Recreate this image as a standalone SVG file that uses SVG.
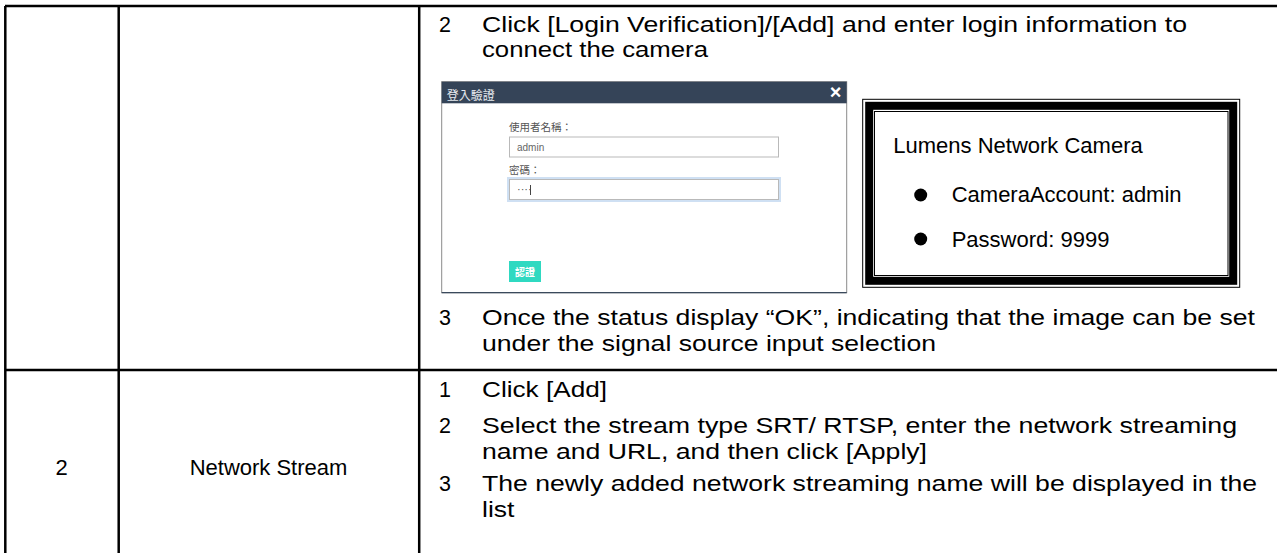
<svg xmlns="http://www.w3.org/2000/svg" width="1277" height="553" viewBox="0 0 1277 553">
<style>
.t{font-family:"Liberation Sans",Arial,sans-serif;font-size:22px;fill:#000}
.m{font-size:21.5px}
.grid{stroke:#000;stroke-width:2.5;fill:none}
.ui{font-family:"Noto Sans CJK TC","Noto Sans CJK SC","Liberation Sans",sans-serif}
.lbl{font-size:10.5px;fill:#555}
.inp{fill:#fff;stroke:#b9b9b9;stroke-width:1}
</style>
<rect x="0" y="0" width="1277" height="553" fill="#fff"/>
<g id="table-grid">
<line class="grid" x1="5" y1="6" x2="1277" y2="6"/>
<line class="grid" x1="5" y1="370" x2="1277" y2="370"/>
<line class="grid" x1="5.3" y1="6" x2="5.3" y2="553"/>
<line class="grid" x1="118.7" y1="6" x2="118.7" y2="553"/>
<line class="grid" x1="419.2" y1="6" x2="419.2" y2="553"/>
</g>
<g id="row1-steps">
<text class="t m" x="439" y="32">2</text>
<text class="t m" x="482" y="32" textLength="705" lengthAdjust="spacingAndGlyphs">Click [Login Verification]/[Add] and enter login information to</text>
<text class="t m" x="482" y="57" textLength="226" lengthAdjust="spacingAndGlyphs">connect the camera</text>
<text class="t m" x="439" y="325">3</text>
<text class="t m" x="482" y="325" textLength="773" lengthAdjust="spacingAndGlyphs">Once the status display “OK”, indicating that the image can be set</text>
<text class="t m" x="482" y="351" textLength="454" lengthAdjust="spacingAndGlyphs">under the signal source input selection</text>
</g>
<g id="login-dialog">
<rect x="441.7" y="81.7" width="405" height="211" fill="#fff" stroke="#8a8a8a" stroke-width="1"/>
<rect x="441.7" y="81.7" width="405" height="21.6" fill="#354458"/>
<line x1="441.7" y1="292.7" x2="846.7" y2="292.7" stroke="#3a4a5c" stroke-width="1.2"/>
<text class="ui" x="446.7" y="99.5" font-size="12" fill="#e6eaef">登入驗證</text>
<text x="835.5" y="99" font-family="'Liberation Sans',Arial,sans-serif" font-size="20" font-weight="bold" fill="#fff" text-anchor="middle">×</text>
<text class="ui lbl" x="509" y="131">使用者名稱：</text>
<rect class="inp" x="509.5" y="137" width="269" height="20"/>
<text x="517" y="151" font-family="'Liberation Sans',Arial,sans-serif" font-size="10" fill="#666">admin</text>
<text class="ui lbl" x="509" y="174">密碼：</text>
<rect x="508" y="178" width="272" height="23" fill="none" stroke="#cfe0f3" stroke-width="2"/>
<rect class="inp" x="509.5" y="179.5" width="269" height="20" stroke="#9fb3c8"/>
<text x="517" y="193" font-family="'Liberation Sans',Arial,sans-serif" font-size="11" fill="#555">····</text>
<rect x="530" y="185" width="1" height="10" fill="#444"/>
<rect x="509" y="261" width="32" height="21" fill="#2fd9c1"/>
<text class="ui" x="525" y="275.5" font-size="10" font-weight="bold" fill="#fff" text-anchor="middle">認證</text>
</g>
<g id="camera-info-box">
<rect x="862.7" y="99.3" width="377" height="188" fill="#fff" stroke="#000" stroke-width="1"/>
<rect x="869.2" y="105.8" width="364" height="175" fill="none" stroke="#000" stroke-width="8"/>
<rect x="874.5" y="111.5" width="353.5" height="164" fill="none" stroke="#000" stroke-width="1"/>
<text class="t" x="893.3" y="153.3">Lumens Network Camera</text>
<circle cx="920.7" cy="195" r="6.5" fill="#000"/>
<text class="t" x="951.7" y="201.7">CameraAccount: admin</text>
<circle cx="920.7" cy="239" r="6.5" fill="#000"/>
<text class="t" x="951.7" y="246.5">Password: 9999</text>
</g>
<g id="row2">
<text class="t" x="61.5" y="475" text-anchor="middle">2</text>
<text class="t" x="268.5" y="475" text-anchor="middle" font-size="21">Network Stream</text>
<text class="t m" x="439" y="397">1</text>
<text class="t m" x="482" y="397" textLength="125" lengthAdjust="spacingAndGlyphs">Click [Add]</text>
<text class="t m" x="439" y="433">2</text>
<text class="t m" x="482" y="433" textLength="755" lengthAdjust="spacingAndGlyphs">Select the stream type SRT/ RTSP, enter the network streaming</text>
<text class="t m" x="482" y="459" textLength="445" lengthAdjust="spacingAndGlyphs">name and URL, and then click [Apply]</text>
<text class="t m" x="439" y="491">3</text>
<text class="t m" x="482" y="491" textLength="775" lengthAdjust="spacingAndGlyphs">The newly added network streaming name will be displayed in the</text>
<text class="t m" x="482" y="517" textLength="32.5" lengthAdjust="spacingAndGlyphs">list</text>
</g>
</svg>
